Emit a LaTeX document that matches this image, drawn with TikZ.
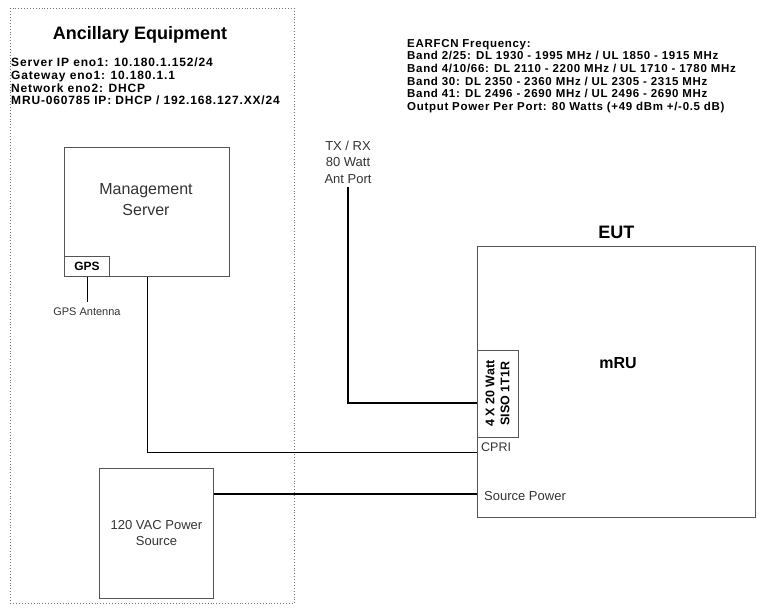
\documentclass[tikz,border=0pt]{standalone}
\usepackage{fontspec}
\setmainfont{Liberation Sans}
\newfontfamily\widefont{Liberation Sans}[LetterSpace=7]
\newfontfamily\midfont{Liberation Sans}[LetterSpace=6]
\usetikzlibrary{positioning}
\definecolor{boxline}{HTML}{555555}
\definecolor{labeltext}{HTML}{333333}

\begin{document}
\begin{tikzpicture}[x=1pt, y=-1pt,
    box/.style={draw=boxline, line width=0.9pt, inner sep=0pt},
    lbl/.style={text=labeltext, align=center, inner sep=0pt},
    info/.style={align=left, inner sep=0pt, anchor=north west},
    wire/.style={line width=0.9pt},
    feed/.style={line width=2pt}
]
\useasboundingbox (0,0) rectangle (765,615);

\node[draw=black!55, dotted, line width=0.9pt, anchor=north west, minimum width=284pt, minimum height=595pt, inner sep=0pt] (anc) at (10,8) {};
\node[font=\bfseries\fontsize{18}{20}\selectfont] (anctitle) at (140,35) {Ancillary Equipment};
\node[info, font=\widefont\bfseries\fontsize{12}{12.6}\selectfont] (ancinfo) at (11,58) {Server IP eno1: 10.180.1.152/24\\Gateway eno1: 10.180.1.1\\Network eno2: DHCP\\MRU-060785 IP: DHCP / 192.168.127.XX/24};

\node[box, anchor=north west, minimum width=165pt, minimum height=129pt] (mgmt) at (64,147) {};
\node[lbl, font=\fontsize{16}{21}\selectfont] (mgmtlbl) at (146,200) {Management\\Server};
\node[box, anchor=south west, minimum width=45pt, minimum height=20pt, font=\bfseries\fontsize{12}{14}\selectfont] (gps) at (mgmt.south west) {GPS};
\node[lbl, font=\fontsize{11}{12}\selectfont, outer sep=0pt, below=31pt of gps.south] (gpsant) {GPS Antenna};

\node[box, anchor=north west, minimum width=114pt, minimum height=130pt, text=labeltext, align=center, font=\fontsize{13}{16}\selectfont] (vac) at (99,468) {120 VAC Power\\Source};

\node[info, font=\midfont\bfseries\fontsize{11.5}{12.6}\selectfont] (earfcn) at (407,39) {EARFCN Frequency:\\Band 2/25: DL 1930 - 1995 MHz / UL 1850 - 1915 MHz\\Band 4/10/66: DL 2110 - 2200 MHz / UL 1710 - 1780 MHz\\Band 30: DL 2350 - 2360 MHz / UL 2305 - 2315 MHz\\Band 41: DL 2496 - 2690 MHz / UL 2496 - 2690 MHz\\Output Power Per Port: 80 Watts (+49 dBm +/-0.5 dB)};
\node[lbl, outer sep=4pt, font=\fontsize{13}{16.5}\selectfont] (txrx) at (348,162) {TX / RX\\80 Watt\\Ant Port};

\node[box, anchor=north west, minimum width=278pt, minimum height=271pt] (eut) at (477,246) {};
\node[font=\bfseries\fontsize{18}{20}\selectfont, inner sep=0pt, above=7pt of eut.north] (eutlbl) {EUT};
\node[font=\bfseries\fontsize{16}{18}\selectfont] (mru) at (618,363) {mRU};
\node[box, rotate=90, minimum width=87pt, minimum height=41pt, align=center, font=\bfseries\fontsize{12.5}{15}\selectfont] (port) at (497.5,393.5) {4 X 20 Watt\\SISO 1T1R};
\node[lbl, anchor=west, font=\fontsize{12.5}{14}\selectfont] (cpri) at (481,447) {CPRI};
\node[lbl, anchor=west, font=\fontsize{13}{15}\selectfont] (srcpwr) at (484,496) {Source Power};

\coordinate (antin) at (eut.west |- 0,403);
\coordinate (cpriin) at (eut.west |- 0,452);
\coordinate (pwrin) at (eut.west |- 0,494);

\draw[wire] (gps.south) -- ([yshift=6pt]gpsant.north);
\draw[wire] (mgmt.south) |- (cpriin);
\draw[feed] (txrx) |- (antin);
\draw[feed] (vac.east |- pwrin) -- (pwrin);
\end{tikzpicture}
\end{document}
